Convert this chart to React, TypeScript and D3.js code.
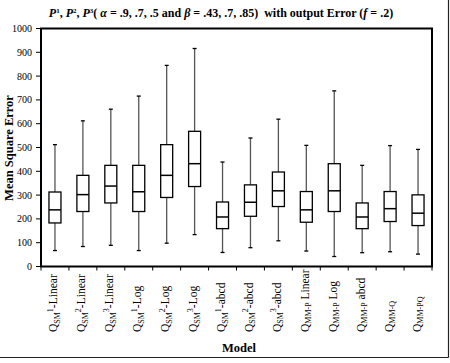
import React from "react";
import * as d3 from "d3";

const labels = [
  { sub: "SM", sup: "1", rest: "-Linear" },
  { sub: "SM", sup: "2", rest: "-Linear" },
  { sub: "SM", sup: "3", rest: "-Linear" },
  { sub: "SM", sup: "1", rest: "-Log" },
  { sub: "SM", sup: "2", rest: "-Log" },
  { sub: "SM", sup: "3", rest: "-Log" },
  { sub: "SM", sup: "1", rest: "-abcd" },
  { sub: "SM", sup: "2", rest: "-abcd" },
  { sub: "SM", sup: "3", rest: "-abcd" },
  { sub: "MM-P", sup: "", rest: " Linear" },
  { sub: "MM-P", sup: "", rest: " Log" },
  { sub: "MM-P", sup: "", rest: " abcd" },
  { sub: "MM-Q", sup: "", rest: "" },
  { sub: "MM-PQ", sup: "", rest: "" },
];
const whiskerMin = [67, 84, 89, 67, 98, 134, 59, 79, 108, 65, 42, 58, 62, 52];
const q1 = [183, 231, 267, 231, 290, 336, 159, 211, 252, 186, 231, 159, 189, 172];
const median = [238, 302, 338, 314, 383, 432, 208, 270, 318, 238, 318, 208, 243, 224];
const q3 = [313, 383, 425, 425, 512, 568, 271, 343, 397, 315, 432, 267, 315, 301];
const whiskerMax = [512, 612, 661, 716, 845, 916, 439, 540, 619, 509, 738, 425, 508, 492];
const yTicks = d3.range(0, 1001, 100);

const W = 450;
const H = 363;
const left = 41;
const right = 432;
const top = 28.5;
const bottom = 266.5;
const font = "'Liberation Serif', 'Times New Roman', serif";

export default function App() {
  const x = d3
    .scaleBand<number>()
    .domain(d3.range(labels.length))
    .range([left, right]);
  const y = d3.scaleLinear().domain([0, 1000]).range([bottom, top]);
  const bw = 12;
  const cap = 4;
  return (
    <svg
      width={W}
      height={H}
      style={{ position: "absolute", left: 0, top: 0, fontFamily: font }}
    >
      <rect x={0} y={0} width={W} height={H} fill="#fff" />
      {/* outer border */}
      <line x1={0} x2={448.5} y1={357.5} y2={357.5} stroke="#222" strokeWidth={1.2} />
      <line x1={448.5} x2={448.5} y1={0} y2={357.5} stroke="#222" strokeWidth={1.2} />

      {/* title */}
      <text x={221} y={17} textAnchor="middle" fontSize={12} fontWeight="bold" style={{ whiteSpace: "pre" }}>
        <tspan fontStyle="italic">P</tspan>
        <tspan fontSize={7} dy={-4}>1</tspan>
        <tspan dy={4}>, </tspan>
        <tspan fontStyle="italic">P</tspan>
        <tspan fontSize={7} dy={-4}>2</tspan>
        <tspan dy={4}>, </tspan>
        <tspan fontStyle="italic">P</tspan>
        <tspan fontSize={7} dy={-4}>3</tspan>
        <tspan dy={4}>( </tspan>
        <tspan fontStyle="italic">α</tspan>
        <tspan> = .9, .7, .5 and </tspan>
        <tspan fontStyle="italic">β</tspan>
        <tspan> = .43, .7, .85)  with output Error (</tspan>
        <tspan fontStyle="italic">f</tspan>
        <tspan> = .2)</tspan>
      </text>

      {/* y ticks */}
      {yTicks.map((t) => (
        <g key={t}>
          <line x1={36} x2={left} y1={y(t)} y2={y(t)} stroke="#000" strokeWidth={1} />
          <text x={32} y={y(t) + 3.5} textAnchor="end" fontSize={10}>
            {t}
          </text>
        </g>
      ))}

      {/* x ticks */}
      {d3.range(labels.length + 1).map((i) => {
        const xx = left + i * x.step();
        return (
          <line key={i} x1={xx} x2={xx} y1={bottom} y2={bottom + 4} stroke="#000" strokeWidth={1} />
        );
      })}

      {/* boxes */}
      {labels.map((_, i) => {
        const cx = (x(i) as number) + x.bandwidth() / 2;
        return (
          <g key={i}>
            <line x1={cx} x2={cx} y1={y(whiskerMax[i])} y2={y(q3[i])} stroke="#555" strokeWidth={1.3} />
            <line x1={cx} x2={cx} y1={y(q1[i])} y2={y(whiskerMin[i])} stroke="#555" strokeWidth={1.3} />
            <line x1={cx - cap / 2} x2={cx + cap / 2} y1={y(whiskerMax[i])} y2={y(whiskerMax[i])} stroke="#000" strokeWidth={1.3} />
            <line x1={cx - cap / 2} x2={cx + cap / 2} y1={y(whiskerMin[i])} y2={y(whiskerMin[i])} stroke="#000" strokeWidth={1.3} />
            <rect
              x={cx - bw / 2}
              y={y(q3[i])}
              width={bw}
              height={y(q1[i]) - y(q3[i])}
              fill="#fff"
              stroke="#000"
              strokeWidth={1.3}
            />
            <line x1={cx - bw / 2} x2={cx + bw / 2} y1={y(median[i])} y2={y(median[i])} stroke="#000" strokeWidth={1.5} />
          </g>
        );
      })}

      {/* frame */}
      <rect x={left} y={top} width={right - left} height={bottom - top} fill="none" stroke="#000" strokeWidth={2} />

      {/* x labels */}
      {labels.map((l, i) => {
        const cx = (x(i) as number) + x.bandwidth() / 2;
        return (
          <text
            key={i}
            transform={`translate(${cx + 2.5},332) rotate(-90)`}
            fontSize={11.5}
            textAnchor="start"
            style={{ whiteSpace: "pre" }}
          >
            <tspan>Q</tspan>
            <tspan fontSize={8} dy={2.5}>{l.sub}</tspan>
            {l.sup ? (
              <>
                <tspan fontSize={8} dy={-7}>{l.sup}</tspan>
                <tspan dy={4.5}>{l.rest}</tspan>
              </>
            ) : (
              <tspan dy={-2.5}>{l.rest}</tspan>
            )}
          </text>
        );
      })}

      {/* axis titles */}
      <text
        transform={`translate(13,148) rotate(-90)`}
        textAnchor="middle"
        fontSize={12.5}
        fontWeight="bold"
      >
        Mean Square Error
      </text>
      <text x={239} y={352} textAnchor="middle" fontSize={12.5} fontWeight="bold">
        Model
      </text>
    </svg>
  );
}
